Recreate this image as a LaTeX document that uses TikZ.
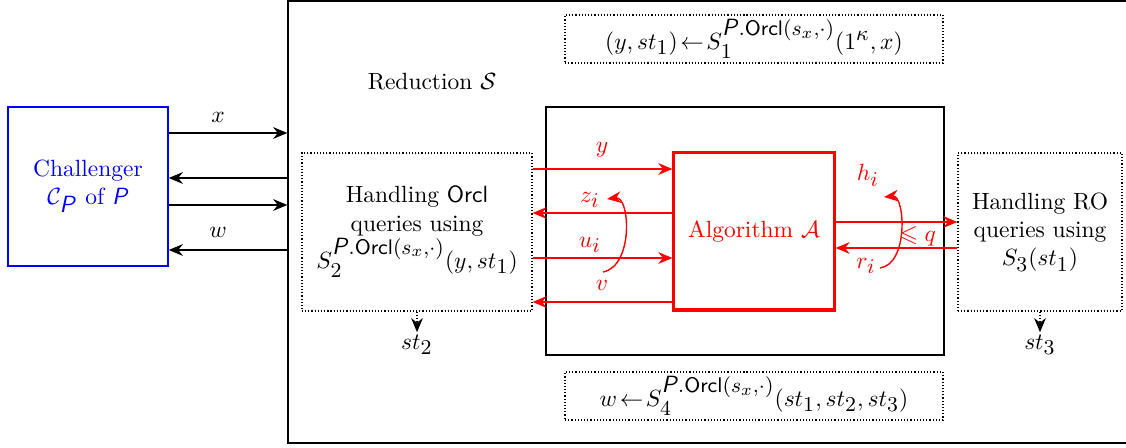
\documentclass[tikz,border=0pt]{standalone}
\usepackage{amssymb}
\DeclareMathSizes{10}{10}{8.6}{7}
\usetikzlibrary{arrows.meta}
\newcommand{\sfP}{\textsf{\textit{P}}}
\newcommand{\Orc}{\mathsf{Orcl}}
\newcommand{\PO}{\sfP.\Orc(s_x,\cdot)}
\tikzset{
  px/.style={x=0.426pt,y=-0.426pt},
  bbox/.style={draw,inner sep=0pt,align=center,line width=0.6pt},
  fdots/.style={dash pattern=on 0.5pt off 0.85pt,line width=0.5pt},
  dbox/.style={draw,fdots,inner sep=0pt,align=center},
  arr/.style={-{Stealth[length=6pt,width=5pt]},line width=0.6pt},
  rarr/.style={-{Stealth[length=6pt,width=5pt]},line width=0.6pt,red},
  lbl/.style={inner sep=1pt},
  rlbl/.style={inner sep=1pt,text=red},
}
\begin{document}
\begin{tikzpicture}[px]
\useasboundingbox (0,0) rectangle (1126,448);
% challenger
\node[bbox,draw=blue,text=blue,minimum width=68.2pt,minimum height=67.7pt] (chal) at (88,186.5)
  {Challenger\\ $\mathcal{C}_{\sfP}$ of $\sfP$};
% reduction outer box
\node[bbox,minimum width=358.7pt,minimum height=188.3pt] (redn) at (709,222) {};
\node[lbl] (redlbl) at (432,82) {Reduction $\mathcal{S}$};
% top and bottom dotted boxes
\node[dbox,minimum width=161pt,minimum height=20.4pt] (top) at (754,39)
  {$(y,st_1)\!\leftarrow\! S_1^{\PO}(1^\kappa,x)$};
\node[dbox,minimum width=161pt,minimum height=20.4pt] (bot) at (754,396)
  {$w\!\leftarrow\! S_4^{\PO}(st_1,st_2,st_3)$};
% left and right dotted boxes
\node[dbox,minimum width=98pt,minimum height=67.3pt] (L) at (417,232)
  {Handling $\Orc$\\ queries using\\ $S_2^{\PO}(y,st_1)$};
\node[dbox,minimum width=69.9pt,minimum height=67.3pt] (R) at (1040,232)
  {Handling RO\\ queries using\\ $S_3(st_1)$};
% inner box and algorithm
\node[bbox,minimum width=169.5pt,minimum height=105.6pt] (inner) at (745,231) {};
\node[bbox,draw=red,text=red,line width=1.3pt,minimum width=68.2pt,minimum height=66.9pt] (alg) at (754,231.5)
  {Algorithm $\mathcal{A}$};
% challenger <-> reduction
\draw[arr] (chal.east |- 0,133) -- (redn.west |- 0,133);
\draw[arr] (redn.west |- 0,178) -- (chal.east |- 0,178);
\draw[arr] (chal.east |- 0,205) -- (redn.west |- 0,205);
\draw[arr] (redn.west |- 0,250) -- (chal.east |- 0,250);
\node[lbl] (lx) at (218,117) {$x$};
\node[lbl] (lw) at (218,232) {$w$};
% red arrows left
\draw[rarr] (L.east |- 0,169) -- (alg.west |- 0,169);
\draw[rarr] (alg.west |- 0,213) -- (L.east |- 0,213);
\draw[rarr] (L.east |- 0,258) -- (alg.west |- 0,258);
\draw[rarr] (alg.west |- 0,302) -- (L.east |- 0,302);
\node[rlbl] (ly) at (602,150) {$y$};
\node[rlbl] (lz) at (590,200) {$z_i$};
\node[rlbl] (lu) at (590,245) {$u_i$};
\node[rlbl] (lv) at (602,285) {$v$};
\coordinate (c1s) at (603,272);
\coordinate (c1e) at (607,199);
\draw[rarr] (c1s) .. controls (634,266) and (630,196) .. (c1e);
% red arrows right
\draw[rarr] (alg.east |- 0,222) -- (R.west |- 0,222);
\draw[rarr] (R.west |- 0,248) -- (alg.east |- 0,248);
\node[rlbl] (lh) at (868,175) {$h_i$};
\node[rlbl] (lr) at (866,266) {$r_i$};
\node[rlbl] (lq) at (918,236) {$\leqslant q$};
\coordinate (c2s) at (880,268);
\coordinate (c2e) at (884,197);
\draw[rarr] (c2s) .. controls (909,264) and (905,195) .. (c2e);
% st outputs
\node[lbl] (st2) at (417,345) {$st_2$};
\node[lbl] (st3) at (1040,345) {$st_3$};
\draw[arr,fdots] (L.south) -- (st2.north);
\draw[arr,fdots] (R.south) -- (st3.north);
\end{tikzpicture}
\end{document}
